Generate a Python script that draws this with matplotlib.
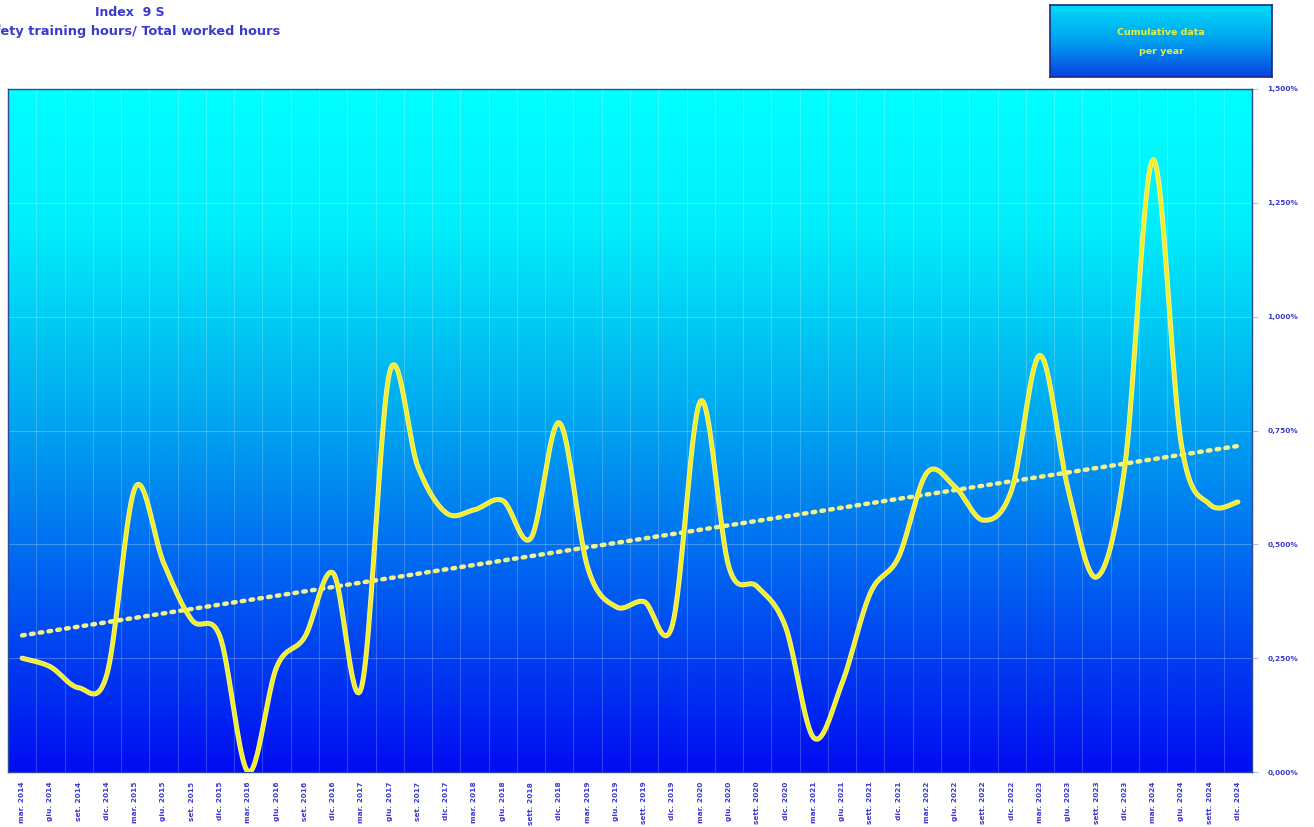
import numpy as np
import matplotlib
matplotlib.use("Agg")
import matplotlib.pyplot as plt
from matplotlib.colors import LinearSegmentedColormap

# quarter labels as on the chart
months = ["mar.", "giu.", "sett.", "dic."]
years = list(range(2014, 2025))
labels = []
for y in years:
    for m in months:
        if m == "sett." and y < 2018:
            m = "set."
        labels.append(f"{m} {y}")

# index values, %
values = [0.250, 0.231, 0.185, 0.215, 0.625, 0.460, 0.334, 0.297,
          0.000, 0.230, 0.297, 0.437, 0.185, 0.878, 0.670, 0.569,
          0.576, 0.596, 0.514, 0.767, 0.450, 0.363, 0.374, 0.323,
          0.815, 0.450, 0.407, 0.319, 0.075, 0.195, 0.393, 0.472,
          0.657, 0.626, 0.553, 0.620, 0.915, 0.620, 0.428, 0.670,
          1.345, 0.720, 0.588, 0.593]

# linear trend as drawn on the chart: value at first and last quarter
trend_ends = [0.300, 0.716]

y_ticks = [0.0, 0.25, 0.5, 0.75, 1.0, 1.25, 1.5]

text_blue = "#3a3acf"


def smooth(x, y, n=20):
    # Catmull-Rom style smoothing like the spreadsheet's "smoothed line"
    x = np.asarray(x, float)
    y = np.asarray(y, float)
    px = np.concatenate([[x[0]], x, [x[-1]]])
    py = np.concatenate([[y[0]], y, [y[-1]]])
    xs, ys = [], []
    t = np.linspace(0, 1, n, endpoint=False)
    for i in range(1, len(px) - 2):
        p0, p1, p2, p3 = py[i - 1], py[i], py[i + 1], py[i + 2]
        q0, q1, q2, q3 = px[i - 1], px[i], px[i + 1], px[i + 2]
        c1y, c2y = p1 + (p2 - p0) / 6, p2 - (p3 - p1) / 6
        c1x, c2x = q1 + (q2 - q0) / 6, q2 - (q3 - q1) / 6
        b0, b1, b2, b3 = (1 - t) ** 3, 3 * t * (1 - t) ** 2, 3 * t ** 2 * (1 - t), t ** 3
        xs.append(b0 * q1 + b1 * c1x + b2 * c2x + b3 * q2)
        ys.append(b0 * p1 + b1 * c1y + b2 * c2y + b3 * p2)
    xs.append([x[-1]])
    ys.append([y[-1]])
    return np.concatenate(xs), np.concatenate(ys)


def main():
    fig = plt.figure(figsize=(13.14, 8.27), dpi=100)
    ax = fig.add_axes([8 / 1314, 55 / 827, 1244 / 1314, 683 / 827])

    x = np.arange(len(values))
    ax.set_xlim(-0.5, len(values) - 0.5)
    ax.set_ylim(0, 1.5)

    # background gradient
    bg = LinearSegmentedColormap.from_list(
        "bg", [(0.0, "#000cf2"), (0.25, "#0058f0"), (0.55, "#00b0f0"),
               (0.8, "#00eefa"), (1.0, "#00ffff")])
    grad = np.linspace(0, 1, 256).reshape(-1, 1)
    ax.imshow(grad, cmap=bg, aspect="auto", origin="lower",
              extent=[-0.5, len(values) - 0.5, 0, 1.5], zorder=0)

    # grid
    for xb in np.arange(0.5, len(values) - 0.5, 1):
        ax.axvline(xb, color="white", alpha=0.2, lw=0.8, zorder=1)
    for yt in y_ticks[1:-1]:
        ax.axhline(yt, color="white", alpha=0.25, lw=0.8, zorder=1)

    # trend line
    ax.plot([x[0], x[-1]], trend_ends, color="#f4f48c", lw=3.2,
            linestyle=(0, (0.6, 1.4)), dash_capstyle="round", zorder=2)

    # data line
    sx, sy = smooth(x, values)
    ax.plot(sx, sy, color="#f6f2a0", lw=3.6, solid_capstyle="round", zorder=3)
    ax.plot(sx, sy, color="#f2f020", lw=2.3, solid_capstyle="round", zorder=4)

    ax.set_xticks(x)
    ax.set_xticklabels(labels, rotation=90, fontsize=5.3, color=text_blue,
                       fontweight="bold")
    ax.yaxis.tick_right()
    ax.set_yticks(y_ticks)
    ax.set_yticklabels([f"{v:.3f}%".replace(".", ",") for v in y_ticks],
                       fontsize=5.3, color=text_blue, fontweight="bold")
    ax.tick_params(axis="x", length=0, pad=7)
    ax.tick_params(axis="y", length=4, color="#bbbbdd", pad=7)
    for s in ax.spines.values():
        s.set_color("#2a4aa0")
        s.set_linewidth(1.0)

    # titles (left part of the second line runs off the page, as in the original)
    fig.text(130 / 1314, 1 - 12 / 827, "Index  9 S", ha="center", va="center",
             fontsize=9, color=text_blue, fontweight="bold")
    fig.text(280 / 1314, 1 - 31 / 827, "Safety training hours/ Total worked hours",
             ha="right", va="center", fontsize=9.25, color=text_blue, fontweight="bold")

    # legend-like box
    bax = fig.add_axes([1050 / 1314, 1 - 77 / 827, 222 / 1314, 72 / 827])
    bgrad = LinearSegmentedColormap.from_list("box", ["#0a40e0", "#00a0f0", "#00dcf8"])
    bax.imshow(grad, cmap=bgrad, aspect="auto", origin="lower", extent=[0, 1, 0, 1])
    bax.set_xticks([])
    bax.set_yticks([])
    for s in bax.spines.values():
        s.set_color("#1a2a80")
        s.set_linewidth(1.2)
    bax.text(0.5, 0.62, "Cumulative data", ha="center", va="center",
             fontsize=6.8, color="#e4f040", fontweight="bold", transform=bax.transAxes)
    bax.text(0.5, 0.36, "per year", ha="center", va="center",
             fontsize=6.8, color="#e4f040", fontweight="bold", transform=bax.transAxes)

    fig.savefig("out.png", dpi=100)
    plt.close(fig)


if __name__ == "__main__":
    main()
